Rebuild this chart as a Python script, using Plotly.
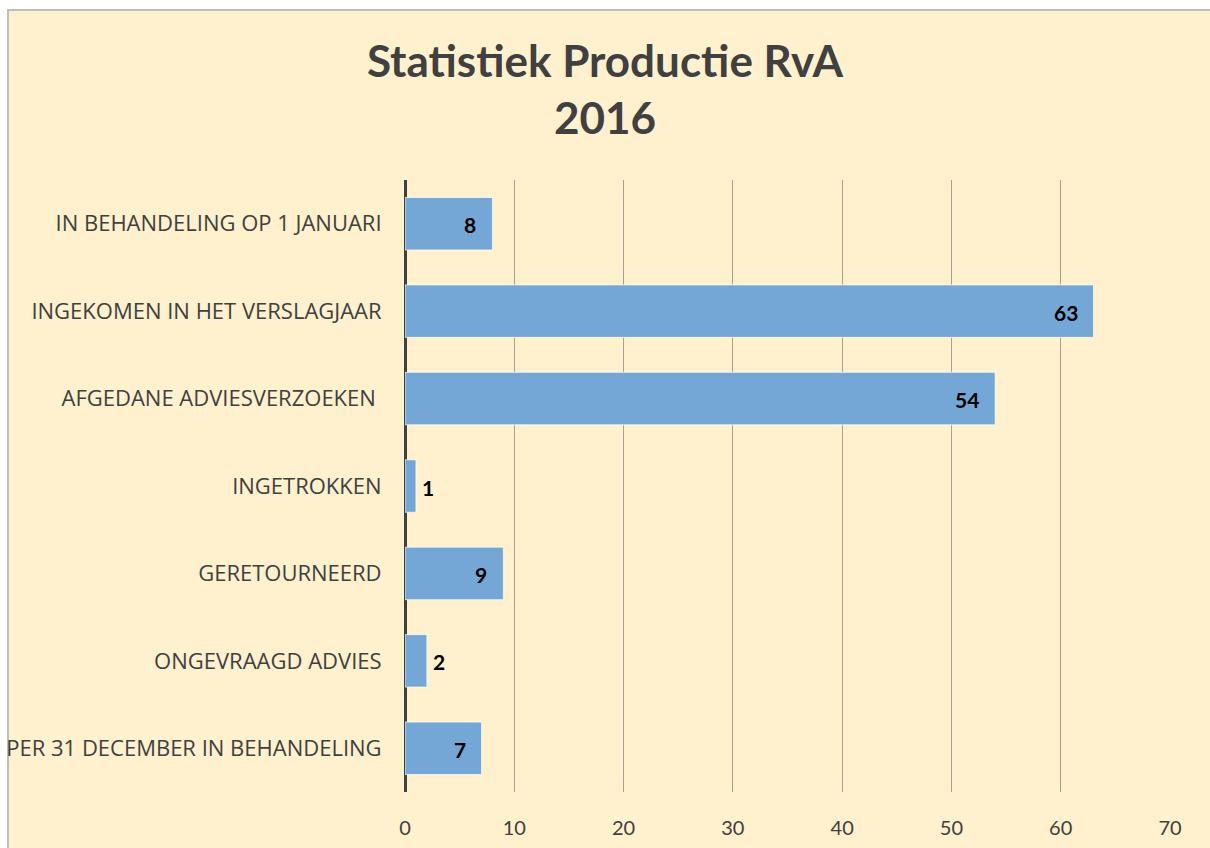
import plotly.graph_objects as go

categories = [
    "IN BEHANDELING OP 1 JANUARI",
    "INGEKOMEN IN HET VERSLAGJAAR",
    "AFGEDANE ADVIESVERZOEKEN ",
    "INGETROKKEN",
    "GERETOURNEERD",
    "ONGEVRAAGD ADVIES",
    "PER 31 DECEMBER IN BEHANDELING",
]
values = [8, 63, 54, 1, 9, 2, 7]
x_ticks = [0, 10, 20, 30, 40, 50, 60, 70]

W, H = 1210, 848
L, R, T, B = 405, 40, 180, 56
pw, ph = W - L - R, H - T - B


def px_x(p):
    return (p - L) / pw


def px_y(p):
    return 1 - (p - T) / ph


fig = go.Figure()
fig.add_trace(go.Bar(
    x=values, y=categories, orientation="h",
    marker=dict(color="#74A7D5", line=dict(color="rgba(255,255,255,0.7)", width=1)),
    width=0.6, hoverinfo="skip",
))

annotations = []
for c, v in zip(categories, values):
    inside = v >= 5
    annotations.append(dict(
        x=v, y=c, xref="x", yref="y", text=f"<b>{v}</b>", showarrow=False,
        xanchor="right" if inside else "left", xshift=-14 if inside else 4,
        yshift=-1,
        font=dict(family="Lato", size=21, color="#000000"),
    ))

shapes = [
    dict(type="rect", xref="paper", yref="paper",
         x0=px_x(8), x1=px_x(1230), y0=px_y(10), y1=px_y(870),
         fillcolor="#FFF0CE", line=dict(color="#BFBFBF", width=2), layer="below"),
]

fig.update_layout(
    width=W, height=H,
    margin=dict(l=L, r=R, t=T, b=B, pad=0, autoexpand=False),
    paper_bgcolor="#FFFFFF", plot_bgcolor="rgba(0,0,0,0)",
    title=dict(text="<b>Statistiek Productie RvA<br>2016</b>", x=0.5, xanchor="center",
               y=1 - 77 / H, yanchor="top",
               font=dict(family="Lato", size=44, color="#404040")),
    showlegend=False,
    shapes=shapes, annotations=annotations,
    bargap=0.4,
)
fig.update_xaxes(
    range=[0, 70], tickvals=x_ticks, showgrid=True, gridcolor="#A8A292", gridwidth=1,
    zeroline=True, zerolinecolor="#404040", zerolinewidth=3,
    ticks="outside", ticklen=0, ticklabelstandoff=18, automargin=False,
    tickfont=dict(family="Lato", size=20, color="#404040"), fixedrange=True,
)
fig.update_yaxes(
    autorange="reversed", showgrid=False, ticks="outside", ticklen=0,
    ticklabelstandoff=18, automargin=False,
    tickfont=dict(family="Open Sans", size=22, color="#404040"), fixedrange=True,
)
fig.write_html("out.html")
